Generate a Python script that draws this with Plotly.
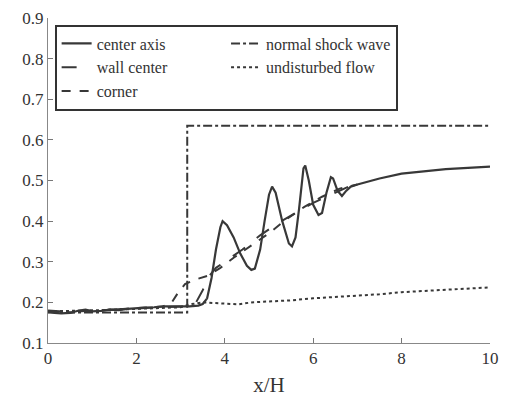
import plotly.graph_objects as go

# ---- data ----
center_x = [0, 0.15, 0.3, 0.5, 0.7, 0.85, 1.0, 1.2, 1.4, 1.6, 1.8, 2.0, 2.2, 2.4, 2.6, 2.8, 3.0, 3.2,
            3.4, 3.5, 3.6, 3.7, 3.8, 3.9, 3.95, 4.05, 4.2, 4.35, 4.5, 4.6, 4.68, 4.8, 4.9, 5.0, 5.07,
            5.15, 5.3, 5.45, 5.52, 5.6, 5.68, 5.78, 5.82, 5.9, 6.0, 6.12, 6.2, 6.3, 6.4, 6.45, 6.55,
            6.65, 6.75, 6.85, 7.0, 7.5, 8.0, 8.5, 9.0, 9.5, 10]
center_y = [0.178, 0.174, 0.173, 0.174, 0.180, 0.182, 0.178, 0.179, 0.182, 0.181, 0.184, 0.186, 0.187,
            0.188, 0.190, 0.190, 0.190, 0.190, 0.192, 0.196, 0.210, 0.260, 0.330, 0.385, 0.400, 0.390,
            0.360, 0.320, 0.290, 0.280, 0.283, 0.330, 0.400, 0.465, 0.485, 0.470, 0.400, 0.345, 0.338,
            0.360, 0.430, 0.530, 0.537, 0.500, 0.440, 0.415, 0.420, 0.470, 0.508, 0.505, 0.475, 0.462,
            0.475, 0.485, 0.490, 0.505, 0.517, 0.523, 0.528, 0.531, 0.534]

wall_x = [0, 0.5, 1.0, 1.5, 2.0, 2.5, 3.0, 3.2, 3.35, 3.5, 3.65, 3.8, 4.0, 4.4, 4.8, 5.2, 5.6, 6.0, 6.4, 6.8, 7.0]
wall_y = [0.180, 0.176, 0.180, 0.182, 0.185, 0.188, 0.190, 0.190, 0.200, 0.230, 0.265, 0.285, 0.300,
          0.330, 0.365, 0.395, 0.420, 0.445, 0.465, 0.485, 0.490]

corner_x = [0, 0.5, 1.0, 1.5, 2.0, 2.4, 2.6, 2.8, 2.95, 3.1, 3.3, 3.6, 3.9, 4.2, 4.6, 5.0, 5.4, 5.8, 6.2, 6.6, 7.0]
corner_y = [0.176, 0.175, 0.179, 0.183, 0.186, 0.188, 0.190, 0.200, 0.225, 0.245, 0.255, 0.265, 0.285,
            0.310, 0.340, 0.370, 0.405, 0.435, 0.460, 0.480, 0.490]

shock_x = [0, 3.15, 3.15, 10]
shock_y = [0.175, 0.175, 0.635, 0.635]

undist_x = [0, 1.0, 2.0, 3.0, 3.2, 3.5, 4.0, 4.3, 4.6, 5.0, 5.5, 6.0, 6.5, 7.0, 7.5, 8.0, 8.5, 9.0, 9.5, 10]
undist_y = [0.178, 0.180, 0.184, 0.188, 0.195, 0.200, 0.197, 0.195, 0.200, 0.202, 0.205, 0.210, 0.213,
            0.217, 0.220, 0.225, 0.228, 0.232, 0.235, 0.237]

x_ticks = [0, 2, 4, 6, 8, 10]
y_ticks = [0.1, 0.2, 0.3, 0.4, 0.5, 0.6, 0.7, 0.8, 0.9]

LC = "#383838"
FONT = "Liberation Serif, Times New Roman, serif"

fig = go.Figure()
# order gives two-column row-major legend
fig.add_trace(go.Scatter(x=center_x, y=center_y, mode="lines", name="center axis",
                         line=dict(color=LC, width=2.2, dash="solid")))
fig.add_trace(go.Scatter(x=shock_x, y=shock_y, mode="lines", name="normal shock wave",
                         line=dict(color=LC, width=2, dash="dashdot")))
fig.add_trace(go.Scatter(x=wall_x, y=wall_y, mode="lines", name="wall center",
                         line=dict(color=LC, width=2, dash="longdash")))
fig.add_trace(go.Scatter(x=undist_x, y=undist_y, mode="lines", name="undisturbed flow",
                         line=dict(color=LC, width=2, dash="dot")))
fig.add_trace(go.Scatter(x=corner_x, y=corner_y, mode="lines", name="corner",
                         line=dict(color=LC, width=2, dash="dash")))

fig.update_layout(
    width=505, height=397,
    margin=dict(l=48, r=15, t=18, b=54),
    paper_bgcolor="white", plot_bgcolor="white",
    font=dict(family=FONT, size=17, color="#333333"),
    showlegend=True,
    legend=dict(orientation="h", x=0.015, y=0.98, xanchor="left", yanchor="top",
                bgcolor="white", bordercolor="#333333", borderwidth=2,
                font=dict(family=FONT, size=16, color="#333333"),
                tracegroupgap=0, itemwidth=30),
    xaxis=dict(range=[0, 10], tickvals=x_ticks, ticks="inside", ticklen=5, tickcolor="#777",
               showline=True, linecolor="#888", linewidth=1, showgrid=False, zeroline=False,
               automargin=False,
               title=dict(text="x/H", font=dict(family=FONT, size=21, color="#333333")),
               tickfont=dict(family=FONT, size=17, color="#333333")),
    yaxis=dict(range=[0.1, 0.9], tickvals=y_ticks, ticktext=[f"{v:.1f}" for v in y_ticks],
               ticks="inside", ticklen=5, tickcolor="#777", automargin=False,
               showline=True, linecolor="#888", linewidth=1, showgrid=False, zeroline=False,
               tickfont=dict(family=FONT, size=17, color="#333333")),
)

fig.write_html("out.html")
